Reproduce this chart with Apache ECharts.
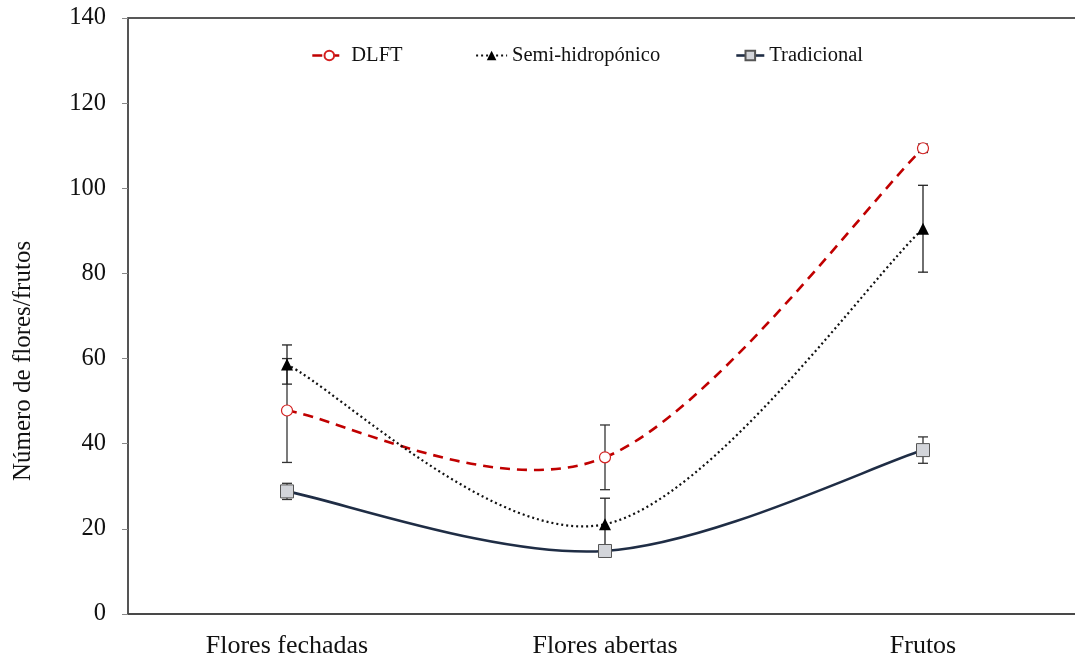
<!DOCTYPE html>
<html><head><meta charset="utf-8">
<script src="https://cdn.jsdelivr.net/npm/echarts@6/dist/echarts.min.js"></script>
<style>html,body{margin:0;padding:0;background:#fff;overflow:hidden}#c{width:1082px;height:659px}</style>
</head><body><div id="c"></div>
<script>
const categories = ['Flores fechadas', 'Flores abertas', 'Frutos'];
const yTicks = [0, 20, 40, 60, 80, 100, 120, 140];
const dlft = [47.8, 36.8, 109.4];
const dlftErr = [12.2, 7.6, 1.0];
const semi = [58.6, 21.1, 90.5];
const semiErr = [4.6, 6.1, 10.2];
const trad = [28.8, 14.8, 38.5];
const tradErr = [1.9, 0.8, 3.1];
const seriesNames = ['DLFT', 'Semi-hidropónico', 'Tradicional'];
const yTitle = 'Número de flores/frutos';

const FONT = '"Liberation Serif", "Times New Roman", serif';
const chart = echarts.init(document.getElementById('c'));

const styles = [
  { line: { color: '#c00000', width: 2.6, type: [10, 7] }, dash: [10, 7] },
  { line: { color: '#111', width: 2.2, type: [2, 3] }, dash: [2, 3] },
  { line: { color: '#1f2d45', width: 2.6, type: 'solid' }, dash: null }
];

function errSeries(vals, errs, color) {
  return {
    type: 'custom', z: 1, silent: true,
    data: vals.map((v, i) => [i, v - errs[i], v + errs[i]]),
    renderItem: function (params, api) {
      const lo = api.coord([api.value(0), api.value(1)]);
      const hi = api.coord([api.value(0), api.value(2)]);
      const w = 5;
      const st = { stroke: color, lineWidth: 1.3 };
      return { type: 'group', children: [
        { type: 'line', shape: { x1: lo[0], y1: lo[1], x2: hi[0], y2: hi[1] }, style: st },
        { type: 'line', shape: { x1: lo[0] - w, y1: lo[1], x2: lo[0] + w, y2: lo[1] }, style: st },
        { type: 'line', shape: { x1: hi[0] - w, y1: hi[1], x2: hi[0] + w, y2: hi[1] }, style: st }
      ]};
    }
  };
}

// Smooth curve (Catmull-Rom style, 1/6 tension) between data points, using axis coordinates
function curveSeries(vals, st) {
  return {
    type: 'custom', z: 2, silent: true,
    data: vals.map((v, i) => [i, v]),
    renderItem: function (params, api) {
      const i = params.dataIndex;
      const n = vals.length;
      if (i >= n - 1) return null;
      const P = k => { const j = Math.max(0, Math.min(n - 1, k)); return api.coord([j, vals[j]]); };
      const p0 = P(i - 1), p1 = P(i), p2 = P(i + 1), p3 = P(i + 2);
      const c1 = [p1[0] + (p2[0] - p0[0]) / 6, p1[1] + (p2[1] - p0[1]) / 6];
      const c2 = [p2[0] - (p3[0] - p1[0]) / 6, p2[1] - (p3[1] - p1[1]) / 6];
      return {
        type: 'bezierCurve',
        shape: { x1: p1[0], y1: p1[1], x2: p2[0], y2: p2[1], cpx1: c1[0], cpy1: c1[1], cpx2: c2[0], cpy2: c2[1] },
        style: { stroke: st.line.color, lineWidth: st.line.width, lineDash: st.dash, fill: null }
      };
    }
  };
}

function legendFor(idx, left, w) {
  return {
    data: [seriesNames[idx]], left: left, top: 40,
    itemWidth: w, itemHeight: 12, itemGap: 0,
    lineStyle: Object.assign({ opacity: 1 }, styles[idx].line),
    textStyle: { fontFamily: FONT, fontSize: 20.5, color: '#111' }
  };
}

chart.setOption({
  animation: false,
  backgroundColor: '#fff',
  grid: { left: 128, top: 18, right: 0, bottom: 44, show: true, borderColor: '#222', borderWidth: 1.5, containLabel: false },
  legend: [legendFor(0, 306, 34), legendFor(1, 470, 31), legendFor(2, 730, 28)],
  xAxis: {
    type: 'category', data: categories, boundaryGap: true,
    axisLine: { lineStyle: { color: '#444', width: 1.5 } },
    axisTick: { alignWithLabel: true, length: 7, lineStyle: { color: '#888' } },
    axisLabel: { fontFamily: FONT, fontSize: 26, color: '#111', margin: 19 },
    splitLine: { show: false }
  },
  yAxis: {
    type: 'value', min: yTicks[0], max: yTicks[yTicks.length - 1], interval: 20,
    axisLine: { show: true, lineStyle: { color: '#555', width: 1.5 } },
    axisTick: { show: true, length: 6, lineStyle: { color: '#888' } },
    axisLabel: { fontFamily: FONT, fontSize: 24.5, color: '#111', margin: 22 },
    splitLine: { show: false }
  },
  graphic: [{
    type: 'text', x: 23, y: 361, rotation: Math.PI / 2,
    style: { text: yTitle, font: '25px ' + FONT, fill: '#111', align: 'center', verticalAlign: 'middle' }
  }],
  series: [
    errSeries(dlft, dlftErr, '#333'),
    errSeries(semi, semiErr, '#222'),
    errSeries(trad, tradErr, '#333'),
    curveSeries(dlft, styles[0]),
    curveSeries(semi, styles[1]),
    curveSeries(trad, styles[2]),
    {
      name: seriesNames[0], type: 'line', data: dlft, z: 3,
      symbol: 'circle', symbolSize: 11,
      itemStyle: { color: '#fff', borderColor: '#d42020', borderWidth: 1.2 },
      lineStyle: Object.assign({}, styles[0].line, { opacity: 0 })
    },
    {
      name: seriesNames[1], type: 'line', data: semi, z: 3,
      symbol: 'triangle', symbolSize: 12,
      itemStyle: { color: '#000' },
      lineStyle: Object.assign({}, styles[1].line, { opacity: 0 })
    },
    {
      name: seriesNames[2], type: 'line', data: trad, z: 3,
      symbol: 'rect', symbolSize: 13,
      itemStyle: { color: '#d3d5da', borderColor: '#555', borderWidth: 1 },
      lineStyle: Object.assign({}, styles[2].line, { opacity: 0 })
    }
  ]
});
</script></body></html>
